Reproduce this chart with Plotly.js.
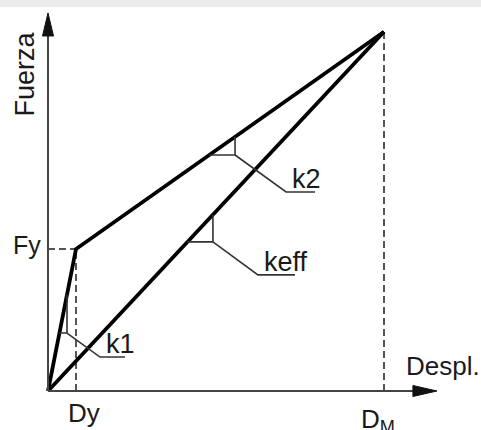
<!DOCTYPE html>
<html><head><meta charset="utf-8">
<script src="https://cdn.plot.ly/plotly-3.0.1.min.js"></script>
<style>html,body{margin:0;padding:0;background:#fff}#chart{width:481px;height:430px}</style>
</head><body><div id="chart"></div>
<script>
// ---- data ----
const dispLabels = ['Dy', 'D<sub>M</sub>'];
const dispValues = [1, 12];
const forceLabels = ['Fy'];
const forceValues = [1, 2.53];
const bilinearX = [0, 1, 12];
const bilinearY = [0, 1, 2.53];
const effectiveX = [0, 12];
const effectiveY = [0, 2.53];
const slopeNames = ['k1', 'k2', 'keff'];
const slopeLine = ['bilinear', 'bilinear', 'effective'];
const slopeStart = [0.408, 5.76, 4.98];
const slopeEnd = [0.679, 6.68, 5.89];
const axisTitles = ['Despl.', 'Fuerza'];
const axisEnd = [13.89, 2.662];

// ---- geometry / style ----
const W = 481, H = 430;
const xRange = [-1.7143, 15.4643];
const yRange = [-0.2746, 2.7535];
const sx = W / (xRange[1] - xRange[0]);
const sy = H / (yRange[1] - yRange[0]);
const dx = p => p / sx, dy = p => p / sy;
const FONT = 'Liberation Sans, Arial, sans-serif';
const TXT = '#1a1a1a';
const leaderDx = [33, 51, 45], leaderDy = [24, 37, 33], leaderLen = [25, 29, 37];

function lineY(xs, ys, x) {
  for (let i = 0; i < xs.length - 1; i++) {
    if (x >= xs[i] && x <= xs[i + 1]) return ys[i] + (ys[i + 1] - ys[i]) * (x - xs[i]) / (xs[i + 1] - xs[i]);
  }
  return ys[ys.length - 1];
}

const traces = [
  {x: [0, dispValues[0]], y: [forceValues[0], forceValues[0]], mode: 'lines', line: {color: '#555', width: 2, dash: '7px,4px'}},
  {x: [dispValues[0], dispValues[0]], y: [0, forceValues[0]], mode: 'lines', line: {color: '#555', width: 2, dash: '7px,4px'}},
  {x: [dispValues[1], dispValues[1]], y: [0, forceValues[1]], mode: 'lines', line: {color: '#555', width: 2, dash: '7px,4px'}},
  {x: bilinearX, y: bilinearY, mode: 'lines', line: {color: '#000', width: 3.8}},
  {x: effectiveX, y: effectiveY, mode: 'lines', line: {color: '#000', width: 3.8}}
];

const shapes = [];
// axes
shapes.push({type: 'line', x0: 0, y0: 0, x1: axisEnd[0] - dx(22), y1: 0, line: {color: '#444', width: 2}});
shapes.push({type: 'line', x0: 0, y0: 0, x1: 0, y1: axisEnd[1] - dy(22), line: {color: '#444', width: 2}});
// arrowheads
const ax = axisEnd[0], ay = axisEnd[1];
shapes.push({type: 'path', path: `M${ax},0 L${ax - dx(24)},${dy(5.5)} L${ax - dx(24)},${-dy(5.5)} Z`, fillcolor: '#111', line: {color: '#111', width: 1}});
shapes.push({type: 'path', path: `M0,${ay} L${dx(5.5)},${ay - dy(23)} L${-dx(5.5)},${ay - dy(23)} Z`, fillcolor: '#111', line: {color: '#111', width: 1}});

const annotations = [];
// slope markers
slopeNames.forEach((name, i) => {
  const xs = slopeLine[i] === 'bilinear' ? bilinearX : effectiveX;
  const ys = slopeLine[i] === 'bilinear' ? bilinearY : effectiveY;
  const xa = slopeStart[i], xb = slopeEnd[i];
  const ya = lineY(xs, ys, xa), yb = lineY(xs, ys, xb);
  shapes.push({type: 'path', path: `M${xa},${ya} L${xb},${ya} L${xb},${yb}`, line: {color: '#333', width: 1.6}});
  const ex = xb + dx(leaderDx[i]), ey = ya - dy(leaderDy[i]);
  const fx = ex + dx(leaderLen[i]);
  shapes.push({type: 'path', path: `M${xb},${ya} L${ex},${ey} L${fx},${ey}`, line: {color: '#333', width: 1.6}});
  annotations.push({x: ex, y: ey, xref: 'x', yref: 'y', text: name, showarrow: false, xanchor: 'left', yanchor: 'bottom', xshift: 4, yshift: -4, font: {family: FONT, size: 27, color: TXT}});
});

// axis labels
annotations.push({x: 0, y: forceValues[0], text: forceLabels[0], showarrow: false, xanchor: 'right', yanchor: 'middle', xshift: -5, yshift: 4, font: {family: FONT, size: 25, color: TXT}});
annotations.push({x: dispValues[0], y: 0, text: dispLabels[0], showarrow: false, xanchor: 'center', yanchor: 'top', xshift: 8, yshift: -5, font: {family: FONT, size: 26, color: TXT}});
annotations.push({x: dispValues[1], y: 0, text: dispLabels[1], showarrow: false, xanchor: 'center', yanchor: 'top', xshift: -6, yshift: -11, font: {family: FONT, size: 26, color: TXT}});
annotations.push({x: axisEnd[0], y: 0, text: axisTitles[0], showarrow: false, xanchor: 'center', yanchor: 'bottom', xshift: 6, yshift: 8, font: {family: FONT, size: 26, color: TXT}});
annotations.push({x: 0, y: axisEnd[1], text: axisTitles[1], showarrow: false, textangle: -90, xanchor: 'right', yanchor: 'top', xshift: -6, yshift: -16, font: {family: FONT, size: 27, color: TXT}});

// faint watermark band at top
shapes.push({type: 'rect', xref: 'paper', yref: 'paper', x0: 0, x1: 1, y0: 1 - 7 / H, y1: 1, fillcolor: '#ececec', line: {width: 0}, layer: 'below'});

const layout = {
  width: W, height: H,
  margin: {l: 0, r: 0, t: 0, b: 0},
  paper_bgcolor: '#fff', plot_bgcolor: '#fff',
  showlegend: false,
  xaxis: {range: xRange, visible: false, fixedrange: true},
  yaxis: {range: yRange, visible: false, fixedrange: true},
  shapes: shapes,
  annotations: annotations
};
Plotly.newPlot('chart', traces, layout, {displayModeBar: false, staticPlot: true});
</script>
</body></html>
